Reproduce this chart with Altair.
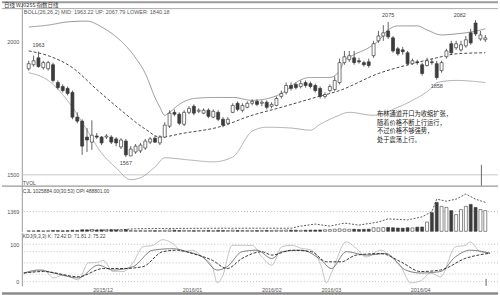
import altair as alt
import pandas as pd

# ---------------- data ----------------
opens = [1899, 1914, 1940, 1903, 1899, 1914, 1847, 1832, 1825, 1810,
         1717, 1702, 1642, 1623, 1646, 1642, 1642, 1642, 1635, 1605,
         1627, 1571, 1586, 1590, 1601, 1623, 1638, 1620, 1642, 1683,
         1735, 1728, 1690, 1735, 1758, 1739, 1732, 1743, 1717, 1735,
         1709, 1694, 1735, 1769, 1743, 1754, 1769, 1776, 1769, 1773,
         1758, 1761, 1795, 1810, 1836, 1840, 1832, 1847, 1843, 1836,
         1825, 1795, 1817, 1821, 1847, 1922, 1933, 1940, 1929, 1922,
         1925, 1948, 2004, 2022, 2041, 2015, 1974, 1970, 1959, 1918,
         1925, 1914, 1911, 1925, 1918, 1892, 1944, 1993, 1978, 1970,
         1985, 2034, 2071, 2011, 2008]
closes = [1918, 1929, 1907, 1922, 1922, 1855, 1828, 1817, 1806, 1717,
          1702, 1608, 1631, 1649, 1642, 1620, 1646, 1623, 1620, 1631,
          1575, 1597, 1608, 1612, 1627, 1635, 1623, 1642, 1687, 1732,
          1728, 1694, 1735, 1750, 1732, 1743, 1743, 1720, 1739, 1709,
          1687, 1709, 1761, 1746, 1761, 1769, 1776, 1765, 1773, 1754,
          1765, 1787, 1806, 1836, 1825, 1828, 1843, 1836, 1832, 1817,
          1795, 1802, 1832, 1855, 1922, 1944, 1948, 1922, 1925, 1914,
          1911, 1993, 2022, 2034, 2019, 1966, 1955, 1963, 1918, 1929,
          1922, 1881, 1929, 1922, 1866, 1922, 1966, 1959, 1993, 1989,
          2008, 1996, 2030, 2026, 2015]
highs = [1929, 1948, 1963, 1929, 1929, 1922, 1855, 1840, 1832, 1817,
         1735, 1709, 1676, 1705, 1657, 1646, 1653, 1649, 1642, 1638,
         1635, 1608, 1616, 1620, 1635, 1642, 1646, 1649, 1698, 1743,
         1746, 1735, 1743, 1758, 1765, 1750, 1750, 1750, 1746, 1743,
         1717, 1717, 1769, 1776, 1769, 1776, 1784, 1784, 1780, 1780,
         1773, 1795, 1817, 1847, 1847, 1847, 1855, 1855, 1851, 1843,
         1832, 1810, 1840, 1870, 1937, 1966, 1966, 1966, 1940, 1929,
         1937, 2004, 2041, 2063, 2075, 2022, 1981, 1981, 1966, 1937,
         1933, 1922, 1940, 1937, 1929, 1929, 1974, 2004, 2004, 2004,
         2022, 2049, 2082, 2041, 2026]
lows = [1892, 1907, 1903, 1896, 1892, 1847, 1821, 1810, 1799, 1709,
        1694, 1575, 1586, 1594, 1635, 1612, 1635, 1616, 1608, 1597,
        1567, 1571, 1579, 1582, 1594, 1616, 1620, 1612, 1638, 1676,
        1720, 1687, 1683, 1728, 1724, 1732, 1728, 1713, 1713, 1702,
        1679, 1687, 1732, 1739, 1735, 1750, 1761, 1758, 1758, 1746,
        1750, 1758, 1787, 1802, 1817, 1821, 1825, 1828, 1825, 1810,
        1787, 1787, 1810, 1814, 1840, 1914, 1925, 1914, 1918, 1907,
        1903, 1940, 1996, 2004, 2011, 1959, 1948, 1952, 1911, 1914,
        1914, 1873, 1907, 1914, 1858, 1884, 1937, 1952, 1970, 1963,
        1978, 1989, 2022, 2004, 2000]
volumes = [40, 35, 50, 30, 45, 60, 55, 40, 50, 70, 60,
           110, 100, 120, 90, 100, 95, 110, 100, 90, 120,
           60, 50, 55, 45, 60, 50, 55, 70, 90, 80, 60, 70, 55, 50, 60, 55, 65, 50, 70, 60,
           55, 80, 65, 60, 55, 50, 60, 55, 65, 60, 70, 75, 90, 85, 80, 75, 80, 85, 90, 95,
           110, 120, 150, 170, 160, 140, 150, 130, 140, 150,
           250, 240, 260, 270, 250, 230, 220, 250, 240,
           290, 300, 640, 1290, 2000, 1720, 1650, 1430, 1150, 1500, 1720, 1860, 1650, 1500, 1430]

upper_idx = [0, 4, 8, 12, 15, 18, 20, 22, 24, 26, 27, 28, 29, 31, 34, 38, 42, 46, 50, 53,
             55, 58, 62, 64, 65, 67, 70, 72, 74, 76, 80, 82, 85, 88, 91, 94]
upper_val = [2056, 2063, 2075, 2078, 2056, 2019, 1985, 1940, 1881, 1791, 1754, 1724, 1735, 1765,
             1787, 1791, 1791, 1780, 1791, 1817, 1847, 1866, 1866, 1892, 1929, 1952, 1978, 2004,
             2045, 2060, 2060, 2045, 2026, 2030, 2037, 2049]
mid_idx = [0, 4, 9, 14, 19, 24, 27, 32, 39, 46, 52, 59, 64, 72, 79, 84, 88, 94]
mid_val = [1966, 1948, 1903, 1821, 1743, 1672, 1642, 1657, 1679, 1724, 1754, 1791, 1817, 1881,
           1918, 1940, 1955, 1959]
lower_idx = [0, 4, 9, 12, 15, 18, 21, 23, 26, 28, 33, 38, 42, 46, 49, 54, 58, 60, 63, 66,
             71, 76, 79, 83, 84, 88, 94]
lower_val = [1884, 1855, 1754, 1668, 1582, 1526, 1482, 1489, 1530, 1564, 1556, 1549, 1567, 1664,
             1679, 1676, 1668, 1690, 1717, 1735, 1724, 1754, 1780, 1828, 1847, 1855, 1847]

opi_idx = [11, 19, 22, 27, 40, 54, 56, 59, 62, 65, 68, 72, 74, 78, 81, 83, 84, 86, 88, 90, 92, 94]
opi_val = [70, 110, 180, 195, 215, 215, 360, 500, 360, 570, 430, 645, 860, 790, 1000, 1360,
           2220, 2080, 2220, 2580, 2220, 2000]

j_idx = [0, 2, 4, 6, 8, 11, 13, 15, 16, 18, 20, 22, 24, 26, 28, 30, 32, 34, 36, 38, 39, 40, 42,
         44, 46, 48, 50, 52, 54, 56, 58, 60, 61, 62, 65, 67, 69, 72, 74, 76, 78, 80, 82, 84,
         87, 89, 90, 92, 94]
j_val = [23, 27, 31, 10, 18, 5, 50, 52, 57, 27, 27, 50, 93, 97, 112, 102, 80, 84, 66, 40, -3,
         13, 97, 97, 97, 66, 44, 93, 97, 89, 84, 40, -3, 23, 106, 89, 66, 84, 66, 40, -3, 2,
         23, 13, 93, 97, 106, 80, 76]
k_idx = [0, 3, 6, 11, 15, 18, 22, 26, 30, 33, 36, 39, 41, 44, 47, 50, 52, 56, 60, 62, 65, 69,
         73, 77, 80, 84, 87, 90, 94]
k_val = [23, 31, 23, 10, 44, 31, 40, 84, 88, 80, 66, 31, 40, 80, 84, 62, 80, 84, 57, 35, 80, 71,
         75, 31, 23, 27, 66, 84, 76]
d_idx = [0, 4, 11, 16, 20, 24, 28, 31, 34, 38, 41, 44, 48, 50, 54, 58, 61, 64, 67, 72, 76, 80,
         84, 89, 94]
d_val = [23, 27, 13, 35, 35, 40, 80, 84, 75, 57, 35, 62, 80, 71, 84, 80, 53, 53, 71, 75, 53, 27,
         31, 62, 76]

month_idx = [16, 34, 50, 62, 80]
month_labels = ["2015/12", "2016/01", "2016/02", "2016/03", "2016/04"]

price_ticks = [1500, 2000]
vol_ticks = [1369]
kdj_ticks = [0, 20, 50, 80, 100]

hi_lo_idx = [2, 20, 74, 84, 92]
hi_lo_val = [1963, 1567, 2075, 1858, 2082]
hi_lo_pos = ["above", "below", "above", "below", "above2"]

cursor_idx = [93.2]

header_text = "日线  WJ0255  指数日线"
boll_text = "BOLL(26,26,2)  MID: 1963.22    UP: 2067.79    LOWER: 1840.18"
vol_text = "CJL  1025884.00(30.53)    OPI  488801.00"
kdj_text = "KDJ(9,3,3)  K: 72.42    D: 71.81    J: 75.22"
note_lines = ["布林通道开口为收缩扩张，", "随着价格不断上行运行，", "不过价格不够强势，", "处于震荡上行。"]

# ---------------- frames ----------------
N = len(opens)
df = pd.DataFrame({"i": list(range(N)), "open": opens, "close": closes,
                   "high": highs, "low": lows, "vol": volumes})
df["dir"] = ["up" if c >= o else "down" for o, c in zip(opens, closes)]

W = 480
HA, HB, HC = 187, 45, 54
NUM_FONT = "Liberation Sans"
CJK_FONT = "Noto Sans CJK SC"
DARK = "#3c3c3c"

xs = alt.Scale(domain=[-0.4, 95.6], nice=False, zero=False)
X = alt.X("i:Q", scale=xs, axis=None)
dir_fill = alt.Color("dir:N", scale=alt.Scale(domain=["up", "down"], range=["#ffffff", DARK]), legend=None)


def yaxis(values):
    return alt.Axis(values=values, format="d", title=None, ticks=False, grid=False, labelFontSize=5.5,
                    labelColor="#555", labelFont=NUM_FONT, labelPadding=3, domainColor="#999",
                    minExtent=20, maxExtent=20)


one = pd.DataFrame({"a": [0]})

# ---------------- price panel ----------------
ps = alt.Scale(domain=[1455.5, 2153], nice=False, zero=False)

grid1500 = alt.Chart(pd.DataFrame({"p": [1500]})).mark_rule(color="#bbb", strokeWidth=0.8).encode(
    y=alt.Y("p:Q", scale=ps, axis=yaxis(price_ticks)))

def band(idx, vals, color, dash, width):
    d = pd.DataFrame({"i": idx, "v": vals})
    m = alt.Chart(d).mark_line(color=color, strokeWidth=width, interpolate="monotone",
                               strokeDash=dash if dash else [1, 0])
    return m.encode(x=X, y=alt.Y("v:Q", scale=ps))

up_line = band(upper_idx, upper_val, "#7a7a7a", None, 0.8)
mid_line = band(mid_idx, mid_val, "#333", [3, 2], 0.9)
low_line = band(lower_idx, lower_val, "#9a9a9a", None, 0.8)

wick = alt.Chart(df).mark_rule(color=DARK, strokeWidth=0.8).encode(
    x=X, y=alt.Y("low:Q", scale=ps), y2="high:Q")
body = alt.Chart(df).mark_bar(size=3, stroke=DARK, strokeWidth=0.7).encode(
    x=X, y=alt.Y("open:Q", scale=ps), y2="close:Q", fill=dir_fill)

hl = pd.DataFrame({"i": hi_lo_idx, "v": hi_lo_val, "pos": hi_lo_pos,
                   "t": [str(v) for v in hi_lo_val]})
lab_above = alt.Chart(hl).transform_filter("datum.pos == 'above'").mark_text(
    fontSize=5.5, font=NUM_FONT, color="#444", dy=-4, baseline="bottom").encode(
    x=X, y=alt.Y("v:Q", scale=ps), text="t:N")
lab_above2 = alt.Chart(hl).transform_filter("datum.pos == 'above2'").mark_text(
    fontSize=5.5, font=NUM_FONT, color="#444", dy=-2, dx=-16, baseline="bottom").encode(
    x=X, y=alt.Y("v:Q", scale=ps), text="t:N")
lab_below = alt.Chart(hl).transform_filter("datum.pos == 'below'").mark_text(
    fontSize=5.5, font=NUM_FONT, color="#444", dy=4, baseline="top").encode(
    x=X, y=alt.Y("v:Q", scale=ps), text="t:N")

top_bar = alt.Chart(one).mark_rule(color="#9a9a9a", strokeWidth=2).encode(
    x=alt.value(-20), x2=alt.value(W), y=alt.value(1))
head_line = alt.Chart(one).mark_rule(color="#aaa", strokeWidth=1).encode(
    x=alt.value(-20), x2=alt.value(W), y=alt.value(7.5))
sep_line = alt.Chart(one).mark_rule(color="#999", strokeWidth=1.2).encode(
    x=alt.value(-20), x2=alt.value(W), y=alt.value(186.4))

header = alt.Chart(one).mark_text(fontSize=5.5, font=CJK_FONT, color="#333", align="left",
                                  baseline="middle").encode(
    x=alt.value(-18), y=alt.value(4.3), text=alt.value(header_text))
boll = alt.Chart(one).mark_text(fontSize=5.5, font=NUM_FONT, color="#555", align="left",
                                baseline="middle").encode(
    x=alt.value(2), y=alt.value(11), text=alt.value(boll_text))
tvol = alt.Chart(one).mark_text(fontSize=5, font=NUM_FONT, color="#444", align="left",
                                baseline="middle").encode(
    x=alt.value(1), y=alt.value(183.5), text=alt.value("TVOL"))
notes = [alt.Chart(one).mark_text(fontSize=6.3, font=CJK_FONT, color="#222", align="left",
                                  baseline="middle", lineHeight=7).encode(
    x=alt.value(358), y=alt.value(114 + 8.5 * k), text=alt.value(t)) for k, t in enumerate(note_lines)]

cur = pd.DataFrame({"i": cursor_idx})
cursorA = alt.Chart(cur).mark_rule(color="#666", strokeWidth=1).encode(
    x=X, y=alt.value(165), y2=alt.value(186))

panelA = alt.layer(grid1500, low_line, up_line, mid_line, wick, body, lab_above, lab_above2,
                   lab_below, top_bar, head_line, sep_line, header, boll, tvol, *notes,
                   cursorA).properties(width=W, height=HA)

# ---------------- volume panel ----------------
vs = alt.Scale(domain=[0, 3080], nice=False, zero=False)
vgrid = alt.Chart(pd.DataFrame({"v": vol_ticks})).mark_rule(
    color="#999", strokeWidth=0.7, strokeDash=[1, 2]).encode(y=alt.Y("v:Q", scale=vs, axis=yaxis(vol_ticks)))
vbars = alt.Chart(df).mark_bar(size=3, stroke=DARK, strokeWidth=0.6).encode(
    x=X, y=alt.Y("vol:Q", scale=vs), y2=alt.datum(0), fill=dir_fill)
opi = alt.Chart(pd.DataFrame({"i": opi_idx, "v": opi_val})).mark_line(
    color="#333", strokeWidth=0.8, strokeDash=[2, 1.5]).encode(x=X, y=alt.Y("v:Q", scale=vs))
vtext = alt.Chart(one).mark_text(fontSize=5, font=NUM_FONT, color="#444", align="left",
                                 baseline="middle").encode(
    x=alt.value(1), y=alt.value(4.5), text=alt.value(vol_text))
panelB = alt.layer(vgrid, vbars, opi, vtext).properties(width=W, height=HB)

# ---------------- KDJ panel ----------------
ks = alt.Scale(domain=[-11.4, 131.8], nice=False, zero=False)
kgrid = alt.Chart(pd.DataFrame({"v": kdj_ticks})).mark_rule(
    color="#aaa", strokeWidth=0.7, strokeDash=[1, 2]).encode(
    y=alt.Y("v:Q", scale=ks, axis=yaxis(kdj_ticks)))

def kline(idx, vals, color, dash, width):
    d = pd.DataFrame({"i": idx, "v": vals})
    return alt.Chart(d).mark_line(color=color, strokeWidth=width, interpolate="monotone",
                                  strokeDash=dash if dash else [1, 0]).encode(
        x=alt.X("i:Q", scale=xs, axis=alt.Axis(labels=False, ticks=False, grid=False, title=None,
                                                domainColor="#999", minExtent=9, maxExtent=9)),
        y=alt.Y("v:Q", scale=ks))

jl = kline(j_idx, j_val, "#b0b0b0", None, 0.8)
kl = kline(k_idx, k_val, "#555", None, 0.8)
dl = kline(d_idx, d_val, "#222", [3, 1.5], 0.9)
ktext = alt.Chart(one).mark_text(fontSize=5, font=NUM_FONT, color="#444", align="left",
                                 baseline="middle").encode(
    x=alt.value(1), y=alt.value(3.5), text=alt.value(kdj_text))
mlab = alt.Chart(pd.DataFrame({"i": month_idx, "t": month_labels})).mark_text(
    fontSize=5.5, font=NUM_FONT, color="#555", baseline="middle").encode(
    x=X, y=alt.value(HC + 4.5), text="t:N")
cursorC = alt.Chart(cur).mark_rule(color="#666", strokeWidth=1).encode(
    x=X, y=alt.value(47), y2=alt.value(HC))
bottom_bar = alt.Chart(one).mark_rule(color="#8a8a8a", strokeWidth=2.5).encode(
    x=alt.value(-20), x2=alt.value(W), y=alt.value(HC + 7.6))
panelC = alt.layer(kgrid, jl, kl, dl, ktext, mlab, cursorC, bottom_bar).properties(width=W, height=HC)

chart = alt.vconcat(panelA, panelB, panelC, spacing=0).properties(
    padding=0, background="white").configure_view(stroke=None)

chart.save("out.html", embed_options={"renderer": "svg", "actions": False})
